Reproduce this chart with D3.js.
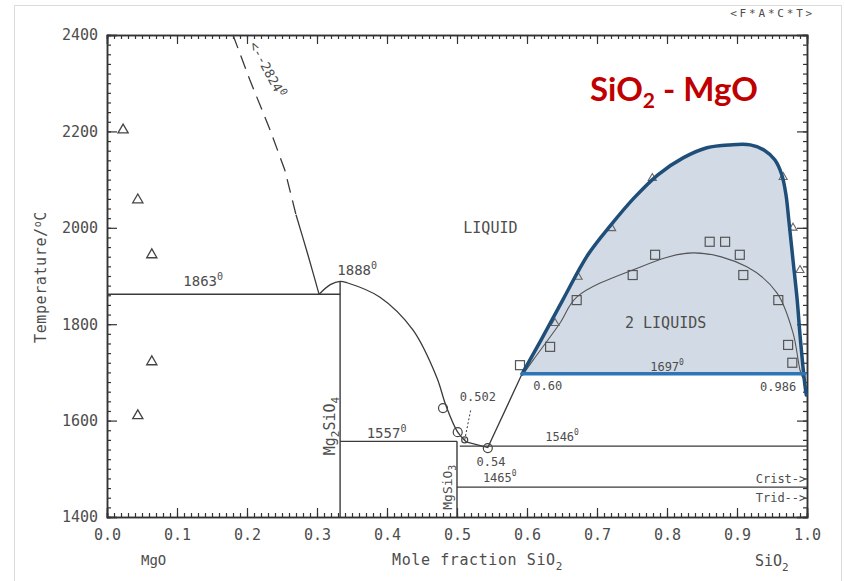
<!DOCTYPE html>
<html>
<head>
<meta charset="utf-8">
<script src="https://cdn.jsdelivr.net/npm/d3@7"></script>
<style>
  body { margin: 0; background: #fff; }
  svg text { font-family: "DejaVu Sans Mono", monospace; fill: #4d4d4d; }
  .axis path { stroke: #333; stroke-width: 1.5; }
  .axis line { stroke: #333; stroke-width: 1.2; }
</style>
</head>
<body>
<svg id="chart" width="845" height="581"></svg>
<script>
// tick labels
var xTickValues = [0, 0.1, 0.2, 0.3, 0.4, 0.5, 0.6, 0.7, 0.8, 0.9, 1.0];
var xTickLabels = ["0.0", "0.1", "0.2", "0.3", "0.4", "0.5", "0.6", "0.7", "0.8", "0.9", "1.0"];
var yTickValues = [1400, 1600, 1800, 2000, 2200, 2400];

// miscibility gap (2 liquids) outer boundary  [x SiO2, T]
var gapBoundary = [[0.593, 1697], [0.620, 1767], [0.651, 1850], [0.687, 1944], [0.72, 2006],
  [0.753, 2062], [0.787, 2110], [0.823, 2145], [0.857, 2166], [0.89, 2172], [0.919, 2172],
  [0.939, 2161], [0.954, 2141], [0.964, 2110], [0.97, 2068], [0.974, 2016], [0.98, 1933],
  [0.986, 1850], [0.99, 1778], [0.994, 1715], [0.997, 1674], [0.999, 1653]];
// inner calculated curve
var gapInner = [[0.593, 1693], [0.609, 1726], [0.647, 1802], [0.671, 1856], [0.75, 1912],
  [0.837, 1948], [0.914, 1919], [0.957, 1865], [0.98, 1782], [0.99, 1705], [0.994, 1688]];
// liquidus, forsterite + enstatite side
var liquidusMain = [[0.303, 1862], [0.319, 1882], [0.333, 1889], [0.343, 1886], [0.39, 1856],
  [0.437, 1788], [0.471, 1690], [0.484, 1632], [0.501, 1576], [0.513, 1556]];
var liquidusLink = [[0.513, 1556], [0.544, 1544], [0.593, 1697]];
var periclaseDashed = [[0.18, 2400], [0.204, 2307], [0.233, 2203], [0.254, 2120], [0.27, 2027]];
var periclaseSolid = [[0.27, 2027], [0.287, 1944], [0.303, 1862]];

// experimental points
var leftTriangles = [[0.023, 2203], [0.044, 2058], [0.064, 1944], [0.064, 1722], [0.044, 1610]];
var gapTriangles = [[0.779, 2103], [0.721, 1999], [0.673, 1898], [0.64, 1802],
  [0.966, 2105], [0.98, 2000], [0.99, 1912]];
var gapSquares = [[0.59, 1715], [0.633, 1753], [0.671, 1850], [0.751, 1902], [0.783, 1944],
  [0.861, 1971], [0.883, 1971], [0.904, 1944], [0.909, 1902], [0.959, 1850], [0.973, 1757],
  [0.979, 1720]];
var circles = [[0.48, 1626], [0.501, 1576], [0.511, 1560], [0.544, 1543]];

// invariant lines
var isotherms = [[1862, 0, 0.333], [1557, 0.333, 0.5], [1547, 0.504, 1.0], [1462, 0.5, 1.0]];
var compounds = [[0.333, 1889], [0.5, 1557]];
var monotectic = [1697, 0.593, 0.997];

var svg = d3.select("#chart");
var margin = {left: 107, right: 38, top: 35, bottom: 64};
var width = 845 - margin.left - margin.right, height = 581 - margin.top - margin.bottom;

// light frame around the picture
svg.append("rect").attr("x", 14.5).attr("y", 5.5).attr("width", 827).attr("height", 580)
  .attr("fill", "none").attr("stroke", "#dcdcdc");

var g = svg.append("g").attr("transform", "translate(" + margin.left + "," + margin.top + ")");

var x = d3.scaleLinear().domain([0, 1]).range([0, width]);
var y = d3.scaleLinear().domain([1400, 2400]).range([height, 0]);

var line = d3.line().x(function (d) { return x(d[0]); }).y(function (d) { return y(d[1]); });
var smooth = d3.line().x(function (d) { return x(d[0]); }).y(function (d) { return y(d[1]); })
  .curve(d3.curveCatmullRom.alpha(0.5));

// two-liquid region
var fillPts = gapBoundary.filter(function (d) { return d[1] >= 1697; });
fillPts.push([0.9965, 1697]);
g.append("path").attr("d", smooth(fillPts) + "Z")
  .attr("fill", "#d2dbe5").attr("stroke", "none");

// axes
var minorX = d3.range(0, 101).map(function (i) { return i / 100; });
var minorY = d3.range(0, 51).map(function (i) { return 1400 + i * 20; });

g.append("g").attr("class", "axis").attr("transform", "translate(0," + height + ")")
  .call(d3.axisBottom(x).tickValues(minorX).tickSize(-4).tickFormat(""));
g.append("g").attr("class", "axis").attr("transform", "translate(0," + height + ")")
  .call(d3.axisBottom(x).tickValues(xTickValues).tickSize(-9).tickPadding(12)
    .tickFormat(function (d, i) { return xTickLabels[i]; }))
  .selectAll("text").style("font-size", "15px");
g.append("g").attr("class", "axis")
  .call(d3.axisTop(x).tickValues(minorX).tickSize(-4).tickFormat(""));
g.append("g").attr("class", "axis")
  .call(d3.axisTop(x).tickValues(xTickValues).tickSize(-9).tickFormat(""));

g.append("g").attr("class", "axis")
  .call(d3.axisLeft(y).tickValues(minorY).tickSize(-4).tickFormat(""));
g.append("g").attr("class", "axis")
  .call(d3.axisLeft(y).tickValues(yTickValues).tickSize(-10).tickPadding(9).tickFormat(d3.format("d")))
  .selectAll("text").style("font-size", "15px");
g.append("g").attr("class", "axis").attr("transform", "translate(" + width + ",0)")
  .call(d3.axisRight(y).tickValues(minorY).tickSize(-4).tickFormat(""));
g.append("g").attr("class", "axis").attr("transform", "translate(" + width + ",0)")
  .call(d3.axisRight(y).tickValues(yTickValues).tickSize(-10).tickFormat(""));
g.selectAll(".axis .domain").attr("fill", "none");

// invariant lines
var ink = "#3a3a3a";
isotherms.forEach(function (d) {
  g.append("line").attr("x1", x(d[1])).attr("x2", x(d[2])).attr("y1", y(d[0])).attr("y2", y(d[0]))
    .attr("stroke", ink).attr("stroke-width", 1.4);
});
compounds.forEach(function (d) {
  g.append("line").attr("x1", x(d[0])).attr("x2", x(d[0])).attr("y1", y(1400)).attr("y2", y(d[1]))
    .attr("stroke", ink).attr("stroke-width", 1.4);
});

// liquidus
g.append("path").attr("d", line(periclaseDashed)).attr("fill", "none").attr("stroke", ink)
  .attr("stroke-width", 1.3).attr("stroke-dasharray", "14,8");
g.append("path").attr("d", smooth(periclaseSolid)).attr("fill", "none").attr("stroke", ink).attr("stroke-width", 1.3);
g.append("path").attr("d", smooth(liquidusMain)).attr("fill", "none").attr("stroke", ink).attr("stroke-width", 1.3);
g.append("path").attr("d", line(liquidusLink)).attr("fill", "none").attr("stroke", ink).attr("stroke-width", 1.3);
g.append("line").attr("x1", x(0.511)).attr("y1", y(1560)).attr("x2", x(0.52)).attr("y2", y(1625))
  .attr("stroke", ink).attr("stroke-width", 1).attr("stroke-dasharray", "2,2");
g.append("path").attr("d", smooth(gapInner)).attr("fill", "none").attr("stroke", "#555").attr("stroke-width", 1.1);

// symbols
var tri = d3.symbol().type(d3.symbolTriangle);
g.selectAll(".ltri").data(leftTriangles).enter().append("path")
  .attr("d", tri.size(45)())
  .attr("transform", function (d) { return "translate(" + x(d[0]) + "," + y(d[1]) + ")"; })
  .attr("fill", "none").attr("stroke", "#444").attr("stroke-width", 1.3);
g.selectAll(".gtri").data(gapTriangles).enter().append("path")
  .attr("d", tri.size(28)())
  .attr("transform", function (d) { return "translate(" + x(d[0]) + "," + y(d[1]) + ")"; })
  .attr("fill", "none").attr("stroke", "#666").attr("stroke-width", 1.1);
g.selectAll(".sq").data(gapSquares).enter().append("rect")
  .attr("x", function (d) { return x(d[0]) - 4.5; }).attr("y", function (d) { return y(d[1]) - 4.5; })
  .attr("width", 9).attr("height", 9)
  .attr("fill", "none").attr("stroke", "#555").attr("stroke-width", 1.2);
g.selectAll(".circ").data(circles).enter().append("circle")
  .attr("cx", function (d) { return x(d[0]); }).attr("cy", function (d) { return y(d[1]); })
  .attr("r", function (d, i) { return i == 2 ? 3 : 4.5; })
  .attr("fill", "none").attr("stroke", "#444").attr("stroke-width", 1.2);

// gap outline on top
g.append("path").attr("d", smooth(gapBoundary)).attr("fill", "none")
  .attr("stroke", "#1f4e79").attr("stroke-width", 3.5).attr("stroke-linecap", "round");
g.append("line").attr("x1", x(monotectic[1])).attr("x2", x(monotectic[2]))
  .attr("y1", y(monotectic[0])).attr("y2", y(monotectic[0]))
  .attr("stroke", "#2e75b6").attr("stroke-width", 3.5).attr("stroke-linecap", "round");

// annotations
function label(txt, sup, xv, tv, size, anchor) {
  var t = g.append("text").attr("x", x(xv)).attr("y", y(tv)).style("font-size", size + "px")
    .attr("text-anchor", anchor || "start").text(txt);
  if (sup) t.append("tspan").attr("dy", -6).style("font-size", (size - 4) + "px").text(sup);
  return t;
}
label("1863", "0", 0.109, 1880, 14);
label("1888", "0", 0.329, 1902, 14);
label("LIQUID", null, 0.509, 1989, 15);
label("2 LIQUIDS", null, 0.74, 1792, 15);
label("1697", "0", 0.776, 1703, 12);
label("0.60", null, 0.609, 1663, 12);
label("0.986", null, 0.933, 1661, 12);
label("0.502", null, 0.504, 1641, 12);
label("0.54", null, 0.528, 1506, 12);
label("1546", "0", 0.626, 1558, 12);
label("1465", "0", 0.537, 1473, 12);
label("1557", "0", 0.371, 1564, 14);
label("Crist->", null, 0.999, 1471, 12, "end");
label("Trid-->", null, 0.999, 1431, 12, "end");

var r = g.append("text").attr("transform", "translate(" + (x(0.203)) + "," + y(2380) + ") rotate(62)")
  .style("font-size", "13px").text("<--2824");
r.append("tspan").attr("dy", -5).style("font-size", "10px").text("0");

var m2 = g.append("text").attr("transform", "translate(" + (x(0.333) - 5) + "," + y(1528) + ") rotate(-90)")
  .style("font-size", "15px").text("Mg");
m2.append("tspan").attr("dy", 4).style("font-size", "11px").text("2");
m2.append("tspan").attr("dy", -4).text("SiO");
m2.append("tspan").attr("dy", 4).style("font-size", "11px").text("4");

var m1 = g.append("text").attr("transform", "translate(" + (x(0.5) - 5) + "," + y(1415) + ") rotate(-90)")
  .style("font-size", "13px").text("MgSiO");
m1.append("tspan").attr("dy", 4).style("font-size", "10px").text("3");

// axis titles
var yt = svg.append("text").attr("transform", "translate(46,277) rotate(-90)")
  .attr("text-anchor", "middle").style("font-size", "15px").style("letter-spacing", "0.6px").text("Temperature/");
yt.append("tspan").attr("dy", -5).style("font-size", "10px").text("o");
yt.append("tspan").attr("dy", 5).text("C");

var xt = svg.append("text").attr("x", 392).attr("y", 565).style("font-size", "15px")
  .style("letter-spacing", "0.6px").text("Mole fraction SiO");
xt.append("tspan").attr("dy", 5).style("font-size", "11px").text("2");
svg.append("text").attr("x", 141).attr("y", 565).style("font-size", "14px").text("MgO");
var st = svg.append("text").attr("x", 755).attr("y", 566).style("font-size", "15px").text("SiO");
st.append("tspan").attr("dy", 5).style("font-size", "11px").text("2");

svg.append("text").attr("x", 815).attr("y", 17).attr("text-anchor", "end")
  .style("font-size", "11px").style("letter-spacing", "2.8px").text("<F*A*C*T>");

// title
var tt = svg.append("text").attr("x", 590).attr("y", 101)
  .style("font-family", "Lato, 'Open Sans', sans-serif").style("font-weight", "bold")
  .style("font-size", "33px").style("fill", "#c00000").text("SiO");
tt.append("tspan").attr("dy", 7).style("font-size", "21px").text("2");
tt.append("tspan").attr("dy", -7).text(" - MgO");
</script>
</body>
</html>
